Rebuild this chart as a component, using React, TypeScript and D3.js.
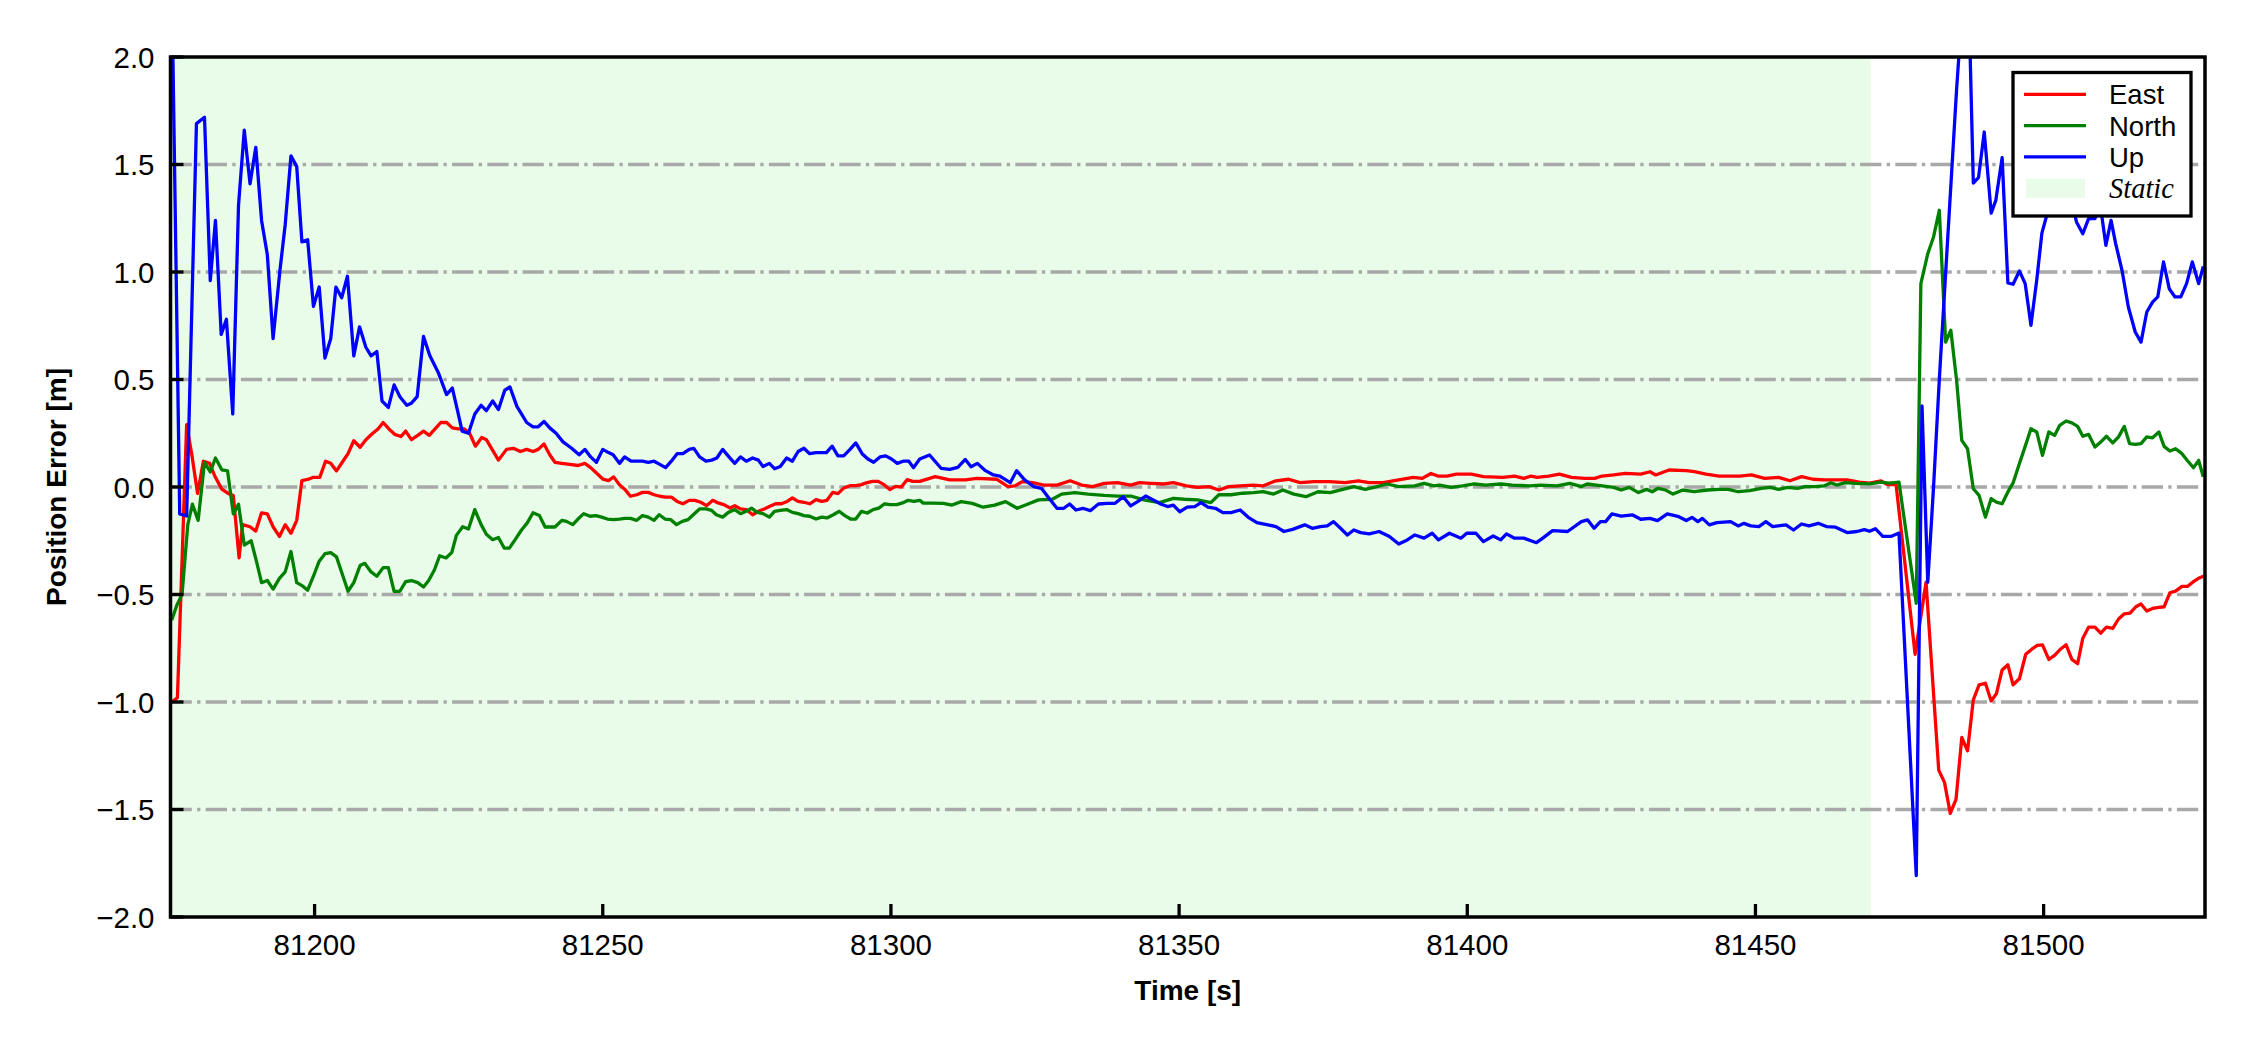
import React, { useEffect } from 'react';
import * as d3 from 'd3';

type Pt = [number, number];

const eastPts: Pt[] = [[81175.2,-1.0],[81176.2,-0.98],[81177.8,0.29],[81178.7,0.15],[81179.7,-0.03],[81180.7,0.12],[81181.8,0.11],[81182.7,0.05],[81183.9,-0.01],[81185.0,-0.03],[81185.9,-0.04],[81186.9,-0.33],[81187.5,-0.175],[81188.8,-0.185],[81189.8,-0.205],[81190.8,-0.12],[81191.8,-0.125],[81192.8,-0.185],[81193.9,-0.23],[81194.9,-0.175],[81195.9,-0.215],[81196.9,-0.155],[81197.8,0.03],[81198.8,0.035],[81199.8,0.045],[81200.9,0.045],[81201.9,0.12],[81202.8,0.11],[81203.8,0.075],[81204.8,0.115],[81205.8,0.155],[81206.8,0.215],[81207.9,0.185],[81208.9,0.22],[81209.9,0.245],[81211.0,0.27],[81211.9,0.30],[81212.9,0.27],[81213.9,0.245],[81215.0,0.235],[81215.8,0.26],[81216.8,0.22],[81217.9,0.24],[81218.9,0.26],[81219.9,0.24],[81220.9,0.27],[81221.9,0.30],[81222.9,0.30],[81223.9,0.275],[81224.9,0.27],[81226.0,0.27],[81226.9,0.25],[81227.9,0.19],[81229.0,0.23],[81229.8,0.22],[81230.9,0.17],[81231.9,0.125],[81233.3,0.175],[81234.5,0.18],[81235.7,0.165],[81236.8,0.175],[81237.9,0.165],[81238.8,0.175],[81239.8,0.20],[81240.8,0.15],[81241.7,0.115],[81242.9,0.11],[81244.3,0.105],[81245.7,0.10],[81246.9,0.11],[81247.9,0.09],[81248.9,0.065],[81250.0,0.037],[81251.0,0.03],[81251.9,0.047],[81252.9,0.01],[81253.8,-0.01],[81254.8,-0.043],[81255.9,-0.036],[81256.9,-0.025],[81257.9,-0.025],[81258.9,-0.036],[81259.9,-0.043],[81260.9,-0.047],[81261.9,-0.047],[81262.9,-0.067],[81263.9,-0.078],[81265.0,-0.062],[81266.0,-0.062],[81267.0,-0.071],[81268.0,-0.087],[81269.1,-0.062],[81270.0,-0.074],[81271.0,-0.082],[81272.1,-0.098],[81272.9,-0.087],[81273.9,-0.102],[81274.9,-0.105],[81276.0,-0.129],[81277.0,-0.113],[81278.0,-0.102],[81279.0,-0.09],[81280.0,-0.078],[81281.0,-0.078],[81282.0,-0.067],[81282.9,-0.051],[81283.9,-0.067],[81284.9,-0.071],[81285.9,-0.078],[81287.0,-0.059],[81288.0,-0.067],[81288.9,-0.062],[81289.9,-0.025],[81290.8,-0.031],[81291.8,-0.005],[81292.9,0.006],[81293.9,0.006],[81294.9,0.011],[81295.7,0.019],[81296.8,0.026],[81297.8,0.026],[81298.8,0.011],[81299.8,-0.012],[81300.8,0.003],[81301.8,0.0],[81302.8,0.034],[81303.8,0.026],[81305.0,0.026],[81307.7,0.048],[81310.2,0.033],[81312.9,0.033],[81314.9,0.04],[81318.4,0.036],[81320.3,0.002],[81321.5,0.005],[81322.8,0.025],[81324.6,0.02],[81326.5,0.009],[81328.8,0.009],[81331.1,0.029],[81333.1,0.009],[81335.0,0.002],[81337.0,0.017],[81339.3,0.02],[81341.6,0.009],[81343.1,0.02],[81345.1,0.017],[81347.4,0.014],[81349.0,0.02],[81351.3,0.005],[81353.2,-0.002],[81355.2,0.002],[81356.9,-0.014],[81358.6,0.002],[81360.6,0.005],[81362.9,0.009],[81364.5,0.005],[81366.8,0.029],[81369.0,0.036],[81371.0,0.02],[81373.4,0.025],[81376.1,0.025],[81378.8,0.02],[81381.1,0.029],[81383.0,0.02],[81385.4,0.02],[81388.1,0.033],[81390.6,0.045],[81392.2,0.04],[81393.7,0.063],[81394.9,0.051],[81396.5,0.051],[81398.1,0.06],[81400.7,0.06],[81402.8,0.048],[81406.2,0.045],[81408.2,0.051],[81409.8,0.04],[81411.1,0.051],[81412.1,0.045],[81414.1,0.051],[81416.0,0.06],[81418.1,0.045],[81420.4,0.04],[81422.1,0.04],[81423.4,0.051],[81425.4,0.056],[81427.4,0.063],[81430.1,0.06],[81431.7,0.071],[81432.7,0.056],[81435.0,0.079],[81438.0,0.076],[81439.4,0.071],[81441.4,0.06],[81443.7,0.051],[81445.3,0.051],[81447.3,0.051],[81449.3,0.056],[81451.6,0.04],[81454.0,0.045],[81456.0,0.029],[81458.0,0.048],[81460.0,0.036],[81461.9,0.033],[81463.9,0.033],[81465.9,0.033],[81468.0,0.023],[81469.8,0.018],[81471.8,0.028],[81472.9,0.011],[81474.4,0.011],[81477.7,-0.778],[81479.6,-0.443],[81481.8,-1.317],[81482.8,-1.374],[81483.8,-1.518],[81484.8,-1.453],[81485.8,-1.165],[81486.8,-1.227],[81487.8,-0.99],[81488.8,-0.92],[81489.9,-0.913],[81490.9,-0.995],[81491.8,-0.962],[81492.8,-0.851],[81493.8,-0.827],[81494.7,-0.92],[81495.8,-0.892],[81496.9,-0.778],[81498.0,-0.753],[81498.9,-0.737],[81499.8,-0.734],[81500.9,-0.802],[81501.9,-0.783],[81502.8,-0.757],[81503.9,-0.734],[81504.9,-0.802],[81505.9,-0.822],[81506.8,-0.703],[81507.8,-0.652],[81508.9,-0.652],[81509.9,-0.68],[81510.9,-0.652],[81512.0,-0.658],[81513.0,-0.614],[81514.0,-0.59],[81515.0,-0.587],[81516.0,-0.557],[81516.9,-0.544],[81517.9,-0.577],[81518.9,-0.565],[81520.0,-0.56],[81520.9,-0.557],[81521.9,-0.492],[81522.9,-0.484],[81524.0,-0.462],[81525.0,-0.462],[81526.0,-0.44],[81527.0,-0.423],[81527.9,-0.413]];

const northPts: Pt[] = [[81175.2,-0.62],[81176.1,-0.55],[81177.0,-0.50],[81178.0,-0.175],[81178.8,-0.08],[81179.8,-0.155],[81180.9,0.115],[81181.9,0.07],[81182.8,0.135],[81183.9,0.08],[81184.9,0.075],[81185.9,-0.125],[81186.8,-0.08],[81187.8,-0.27],[81189.0,-0.25],[81190.0,-0.355],[81190.8,-0.445],[81191.8,-0.435],[81192.8,-0.475],[81193.9,-0.425],[81194.9,-0.395],[81195.9,-0.30],[81196.9,-0.445],[81197.9,-0.46],[81198.8,-0.48],[81199.8,-0.415],[81200.8,-0.345],[81201.8,-0.31],[81202.8,-0.305],[81203.8,-0.325],[81204.8,-0.405],[81205.8,-0.485],[81206.8,-0.445],[81207.9,-0.365],[81208.7,-0.355],[81209.8,-0.395],[81210.8,-0.415],[81211.9,-0.375],[81212.8,-0.375],[81213.8,-0.485],[81214.8,-0.485],[81215.8,-0.44],[81216.8,-0.435],[81217.9,-0.445],[81218.9,-0.465],[81219.8,-0.435],[81220.8,-0.385],[81221.7,-0.32],[81222.8,-0.33],[81223.8,-0.305],[81224.6,-0.225],[81225.7,-0.185],[81226.7,-0.195],[81227.8,-0.105],[81228.9,-0.175],[81229.8,-0.22],[81230.9,-0.245],[81231.9,-0.235],[81232.9,-0.284],[81233.8,-0.284],[81234.8,-0.245],[81235.9,-0.20],[81236.9,-0.167],[81237.9,-0.12],[81239.0,-0.133],[81240.0,-0.186],[81240.8,-0.186],[81241.7,-0.186],[81242.9,-0.155],[81243.7,-0.16],[81244.8,-0.175],[81245.7,-0.149],[81246.7,-0.124],[81247.8,-0.136],[81248.8,-0.133],[81249.8,-0.14],[81250.8,-0.149],[81251.8,-0.152],[81252.9,-0.149],[81253.8,-0.146],[81254.8,-0.146],[81255.9,-0.155],[81256.9,-0.133],[81257.9,-0.14],[81258.9,-0.155],[81259.8,-0.129],[81260.8,-0.149],[81261.8,-0.152],[81262.8,-0.175],[81263.8,-0.16],[81264.8,-0.152],[81265.7,-0.129],[81266.8,-0.102],[81267.9,-0.102],[81268.9,-0.109],[81269.7,-0.129],[81270.8,-0.14],[81271.8,-0.118],[81272.9,-0.105],[81273.9,-0.124],[81274.9,-0.113],[81275.8,-0.098],[81276.8,-0.118],[81277.8,-0.124],[81278.9,-0.14],[81279.8,-0.113],[81280.8,-0.109],[81281.9,-0.105],[81282.9,-0.118],[81283.9,-0.124],[81284.9,-0.133],[81285.9,-0.136],[81287.0,-0.149],[81288.0,-0.14],[81288.9,-0.144],[81290.0,-0.129],[81291.0,-0.113],[81292.0,-0.133],[81293.0,-0.149],[81293.9,-0.149],[81294.9,-0.113],[81295.9,-0.121],[81296.9,-0.105],[81297.9,-0.098],[81298.9,-0.078],[81299.9,-0.082],[81301.0,-0.082],[81302.0,-0.074],[81303.0,-0.062],[81304.0,-0.067],[81305.0,-0.062],[81305.6,-0.075],[81307.1,-0.075],[81309.1,-0.076],[81310.6,-0.084],[81312.2,-0.068],[81314.1,-0.076],[81316.0,-0.094],[81318.0,-0.084],[81319.9,-0.068],[81321.9,-0.099],[81323.8,-0.079],[81325.6,-0.06],[81328.0,-0.057],[81329.6,-0.033],[81331.9,-0.026],[81334.2,-0.033],[81337.0,-0.039],[81339.3,-0.042],[81341.6,-0.042],[81343.9,-0.06],[81346.6,-0.073],[81349.0,-0.053],[81350.9,-0.057],[81353.2,-0.06],[81355.5,-0.073],[81356.9,-0.036],[81359.0,-0.036],[81361.0,-0.029],[81362.9,-0.026],[81364.6,-0.022],[81366.4,-0.033],[81368.0,-0.014],[81369.9,-0.033],[81372.0,-0.045],[81374.1,-0.022],[81376.2,-0.026],[81378.4,-0.011],[81380.3,0.002],[81382.3,-0.011],[81383.8,-0.002],[81386.1,0.014],[81388.1,0.002],[81390.9,0.005],[81392.5,0.017],[81394.2,0.005],[81395.2,0.009],[81397.2,-0.002],[81399.2,0.005],[81401.2,0.014],[81403.2,0.009],[81405.8,0.014],[81407.8,0.009],[81410.8,0.005],[81412.8,0.009],[81415.5,0.005],[81417.8,0.017],[81419.8,0.002],[81420.8,0.014],[81423.4,0.005],[81425.4,-0.002],[81426.7,-0.014],[81428.1,-0.002],[81429.7,-0.026],[81431.1,-0.011],[81432.1,-0.022],[81433.1,-0.006],[81434.4,-0.014],[81435.7,-0.033],[81437.4,-0.014],[81439.4,-0.022],[81441.7,-0.014],[81443.7,-0.011],[81445.3,-0.011],[81447.0,-0.022],[81449.0,-0.017],[81451.0,-0.006],[81452.6,-0.002],[81454.0,-0.011],[81455.6,-0.002],[81457.3,-0.006],[81458.6,0.002],[81460.3,0.002],[81461.9,0.005],[81463.1,0.02],[81464.1,0.009],[81465.6,0.02],[81467.3,0.017],[81469.8,0.015],[81471.8,0.023],[81473.2,0.018],[81474.9,0.023],[81477.9,-0.541],[81478.7,0.946],[81479.9,1.085],[81480.9,1.163],[81481.9,1.287],[81483.0,0.674],[81483.9,0.729],[81484.9,0.496],[81485.8,0.217],[81486.8,0.178],[81487.8,-0.008],[81488.8,-0.039],[81489.9,-0.14],[81490.9,-0.054],[81491.8,-0.07],[81492.8,-0.078],[81493.8,-0.023],[81494.7,0.019],[81495.8,0.109],[81496.8,0.189],[81497.8,0.271],[81498.8,0.256],[81499.8,0.147],[81500.9,0.256],[81501.9,0.24],[81502.8,0.287],[81503.9,0.307],[81504.9,0.298],[81505.9,0.282],[81506.8,0.236],[81507.8,0.245],[81508.9,0.186],[81509.9,0.209],[81510.9,0.236],[81512.0,0.205],[81513.0,0.233],[81514.0,0.282],[81514.9,0.202],[81515.9,0.198],[81516.9,0.202],[81517.9,0.233],[81518.9,0.229],[81520.0,0.256],[81520.9,0.189],[81521.9,0.167],[81522.9,0.178],[81524.0,0.155],[81525.0,0.121],[81526.0,0.09],[81526.9,0.124],[81527.7,0.047]];

const upPts: Pt[] = [[81175.2,2.4],[81176.6,-0.125],[81177.8,-0.135],[81179.5,1.69],[81180.9,1.72],[81181.9,0.96],[81182.8,1.24],[81183.8,0.71],[81184.7,0.78],[81185.8,0.34],[81186.8,1.31],[81187.8,1.66],[81188.8,1.41],[81189.8,1.58],[81190.8,1.24],[81191.8,1.08],[81192.8,0.69],[81194.0,1.01],[81194.9,1.22],[81195.9,1.54],[81196.9,1.49],[81197.8,1.14],[81198.8,1.15],[81199.8,0.84],[81200.8,0.93],[81201.8,0.60],[81202.8,0.69],[81203.7,0.93],[81204.7,0.88],[81205.7,0.98],[81206.8,0.61],[81207.8,0.745],[81208.9,0.65],[81209.8,0.61],[81210.8,0.63],[81211.7,0.40],[81212.8,0.37],[81213.8,0.475],[81214.8,0.42],[81216.0,0.38],[81216.8,0.39],[81217.8,0.42],[81218.9,0.70],[81220.0,0.61],[81221.5,0.53],[81222.9,0.43],[81223.9,0.46],[81224.8,0.355],[81225.6,0.26],[81226.7,0.25],[81227.8,0.34],[81228.9,0.38],[81229.8,0.355],[81230.9,0.40],[81231.9,0.36],[81233.0,0.45],[81233.9,0.465],[81235.1,0.375],[81236.8,0.30],[81237.9,0.28],[81238.8,0.28],[81239.8,0.305],[81240.8,0.275],[81241.9,0.25],[81243.1,0.21],[81244.6,0.18],[81245.9,0.15],[81246.9,0.175],[81247.9,0.14],[81248.9,0.115],[81250.0,0.175],[81251.0,0.16],[81251.8,0.15],[81252.9,0.11],[81253.8,0.14],[81254.9,0.12],[81256.9,0.12],[81257.9,0.115],[81258.9,0.12],[81259.9,0.105],[81260.9,0.09],[81261.9,0.12],[81262.9,0.155],[81263.9,0.155],[81265.0,0.175],[81265.8,0.18],[81266.8,0.14],[81267.9,0.12],[81268.9,0.125],[81269.8,0.135],[81270.8,0.175],[81271.9,0.14],[81272.9,0.11],[81273.9,0.14],[81274.9,0.12],[81276.0,0.135],[81277.0,0.125],[81277.8,0.095],[81278.9,0.11],[81279.8,0.085],[81280.8,0.095],[81281.9,0.135],[81282.9,0.12],[81283.9,0.165],[81284.9,0.18],[81285.9,0.155],[81287.0,0.16],[81288.0,0.16],[81288.8,0.16],[81289.8,0.19],[81290.8,0.145],[81291.8,0.145],[81292.9,0.175],[81293.9,0.205],[81295.0,0.155],[81296.0,0.13],[81297.0,0.115],[81298.1,0.14],[81299.1,0.145],[81300.1,0.13],[81301.1,0.11],[81302.1,0.12],[81303.1,0.12],[81303.9,0.09],[81305.0,0.13],[81306.7,0.149],[81308.7,0.087],[81310.2,0.082],[81311.6,0.091],[81312.9,0.128],[81313.9,0.094],[81315.0,0.11],[81316.4,0.076],[81317.8,0.056],[81318.9,0.051],[81320.7,0.02],[81321.8,0.076],[81323.2,0.033],[81324.8,0.002],[81326.1,-0.006],[81327.3,-0.048],[81328.8,-0.099],[81330.0,-0.099],[81331.0,-0.079],[81332.1,-0.107],[81333.3,-0.099],[81334.6,-0.11],[81336.0,-0.079],[81337.5,-0.076],[81338.9,-0.076],[81340.3,-0.045],[81341.6,-0.088],[81342.8,-0.068],[81344.2,-0.042],[81345.5,-0.06],[81346.8,-0.079],[81348.0,-0.091],[81349.0,-0.084],[81350.1,-0.115],[81351.4,-0.094],[81352.7,-0.091],[81353.8,-0.073],[81355.0,-0.094],[81356.3,-0.099],[81357.6,-0.119],[81359.0,-0.119],[81360.6,-0.107],[81362.0,-0.141],[81363.5,-0.166],[81365.4,-0.176],[81366.8,-0.184],[81368.2,-0.207],[81369.7,-0.197],[81371.8,-0.176],[81373.1,-0.192],[81374.5,-0.184],[81375.7,-0.181],[81376.8,-0.161],[81378.0,-0.192],[81379.2,-0.223],[81380.3,-0.2],[81381.5,-0.212],[81383.0,-0.218],[81384.7,-0.207],[81386.5,-0.23],[81388.1,-0.265],[81389.6,-0.246],[81390.9,-0.223],[81392.5,-0.238],[81393.9,-0.215],[81395.0,-0.246],[81396.9,-0.215],[81398.9,-0.238],[81399.9,-0.215],[81401.5,-0.215],[81402.8,-0.254],[81404.5,-0.228],[81405.8,-0.246],[81406.8,-0.218],[81408.2,-0.238],[81409.8,-0.238],[81412.0,-0.259],[81413.1,-0.238],[81414.8,-0.203],[81417.4,-0.207],[81419.8,-0.161],[81420.9,-0.153],[81422.0,-0.192],[81423.1,-0.161],[81424.0,-0.161],[81425.1,-0.125],[81426.7,-0.135],[81428.7,-0.13],[81430.1,-0.15],[81431.7,-0.146],[81433.0,-0.156],[81434.7,-0.125],[81436.7,-0.138],[81438.0,-0.156],[81439.0,-0.141],[81440.0,-0.161],[81440.8,-0.146],[81442.0,-0.176],[81443.3,-0.166],[81445.7,-0.161],[81447.0,-0.181],[81448.0,-0.169],[81449.2,-0.181],[81450.6,-0.184],[81451.8,-0.161],[81453.0,-0.184],[81455.3,-0.176],[81456.6,-0.2],[81458.0,-0.172],[81459.3,-0.181],[81460.9,-0.169],[81462.3,-0.184],[81463.9,-0.187],[81465.9,-0.212],[81467.6,-0.207],[81468.9,-0.198],[81469.8,-0.206],[81470.8,-0.194],[81472.1,-0.23],[81473.5,-0.23],[81474.9,-0.214],[81477.9,-1.807],[81478.9,0.377],[81479.9,-0.443],[81480.9,0.0],[81481.9,0.5],[81482.9,0.95],[81483.9,1.4],[81484.9,1.85],[81485.8,2.2],[81486.8,2.5],[81487.8,1.414],[81488.7,1.439],[81489.7,1.651],[81490.9,1.274],[81491.7,1.333],[81492.8,1.532],[81493.8,0.949],[81494.7,0.943],[81495.8,1.005],[81496.8,0.946],[81497.8,0.752],[81498.8,0.961],[81499.7,1.181],[81500.7,1.279],[81501.7,1.42],[81502.7,1.55],[81503.7,1.40],[81504.7,1.35],[81505.7,1.233],[81506.8,1.178],[81507.8,1.248],[81508.9,1.248],[81509.8,1.318],[81510.8,1.124],[81511.7,1.24],[81512.5,1.132],[81513.6,1.008],[81514.7,0.837],[81515.9,0.721],[81516.9,0.674],[81517.9,0.814],[81518.9,0.86],[81519.8,0.884],[81520.8,1.047],[81521.8,0.922],[81522.8,0.884],[81523.8,0.884],[81524.8,0.946],[81525.8,1.047],[81526.9,0.946],[81527.7,1.026]];

const xDomain = [81175, 81528];
const yDomain = [-2, 2];
const xTicks = [81200, 81250, 81300, 81350, 81400, 81450, 81500];
const yTicks = [-2.0, -1.5, -1.0, -0.5, 0.0, 0.5, 1.0, 1.5, 2.0];
const staticSpan = [81175, 81470];
const seriesNames = ['East', 'North', 'Up'];
const seriesColors = ['#ff0000', '#008000', '#0000ff'];
const staticLabel = 'Static';
const xLabel = 'Time [s]';
const yLabel = 'Position Error [m]';

const SANS = "'Liberation Sans', Arial, Helvetica, sans-serif";
const SERIF = "'Liberation Serif', 'Times New Roman', serif";

export default function App() {
  useEffect(() => {
    document.body.style.margin = '0';
    document.body.style.overflow = 'hidden';
  }, []);

  const W = 2250, H = 1050;
  const L = 170.5, R = 2205, T = 57, B = 917;
  const x = d3.scaleLinear().domain(xDomain).range([L, R]);
  const y = d3.scaleLinear().domain(yDomain).range([B, T]);
  const line = d3.line<Pt>().x(d => x(d[0])).y(d => y(d[1]));
  const series = [eastPts, northPts, upPts];
  const fmt = (v: number) => d3.format('.1f')(v).replace('-', '\u2212');

  const lw = 3.3;
  const tickLen = 13;
  const legX = 2013, legY = 72.5, legW = 178, legH = 143.5;
  const rowY = [94.3, 125.7, 156.8, 188.2];

  return (
    <svg width={W} height={H} style={{ position: 'absolute', left: 0, top: 0, background: '#fff' }}>
      <defs>
        <clipPath id="plotclip">
          <rect x={L} y={T} width={R - L} height={B - T} />
        </clipPath>
      </defs>
      <rect x={0} y={0} width={W} height={H} fill="#ffffff" />
      <rect x={x(staticSpan[0])} y={T} width={x(staticSpan[1]) - x(staticSpan[0])} height={B - T} fill="#e9fce9" />
      {yTicks.filter(v => v > yDomain[0] && v < yDomain[1]).map(v => (
        <line key={'g' + v} x1={L} x2={R} y1={y(v)} y2={y(v)} stroke="#a8a8a8" strokeWidth={lw}
          strokeDasharray="21.3 5.3 3.3 5.3" />
      ))}
      <g clipPath="url(#plotclip)">
        {series.map((s, i) => (
          <path key={seriesNames[i]} d={line(s) || ''} fill="none" stroke={seriesColors[i]} strokeWidth={lw}
            strokeLinejoin="round" strokeLinecap="butt" />
        ))}
      </g>
      {/* ticks */}
      {yTicks.map(v => (
        <g key={'yt' + v}>
          <line x1={L} x2={L + tickLen} y1={y(v)} y2={y(v)} stroke="#000" strokeWidth={lw} />
          <text x={L - 16} y={y(v)} dy="0.36em" textAnchor="end" fontFamily={SANS} fontSize={29.5} fill="#000">{fmt(v)}</text>
        </g>
      ))}
      {xTicks.map(v => (
        <g key={'xt' + v}>
          <line x1={x(v)} x2={x(v)} y1={B} y2={B - tickLen} stroke="#000" strokeWidth={lw} />
          <text x={x(v)} y={955} textAnchor="middle" fontFamily={SANS} fontSize={29.5} fill="#000">{v}</text>
        </g>
      ))}
      {/* spines */}
      <rect x={L} y={T} width={R - L} height={B - T} fill="none" stroke="#000" strokeWidth={3.5} />
      {/* axis labels */}
      <text x={(L + R) / 2} y={1000} textAnchor="middle" fontFamily={SANS} fontWeight="bold" fontSize={28} fill="#000">{xLabel}</text>
      <text transform={`translate(66, ${(T + B) / 2}) rotate(-90)`} textAnchor="middle" fontFamily={SANS} fontWeight="bold" fontSize={28} fill="#000">{yLabel}</text>
      {/* legend */}
      <rect x={legX} y={legY} width={legW} height={legH} fill="#ffffff" stroke="#000" strokeWidth={3.3} />
      {seriesNames.map((n, i) => (
        <g key={'leg' + n}>
          <line x1={2024} x2={2086} y1={rowY[i]} y2={rowY[i]} stroke={seriesColors[i]} strokeWidth={lw} />
          <text x={2109} y={rowY[i]} dy="0.36em" fontFamily={SANS} fontSize={27.5} fill="#000">{n}</text>
        </g>
      ))}
      <rect x={2026} y={rowY[3] - 9.5} width={59} height={19} fill="#e9fce9" />
      <text x={2109} y={rowY[3]} dy="0.33em" fontFamily={SERIF} fontStyle="italic" fontSize={28.5} fill="#000">{staticLabel}</text>
    </svg>
  );
}
